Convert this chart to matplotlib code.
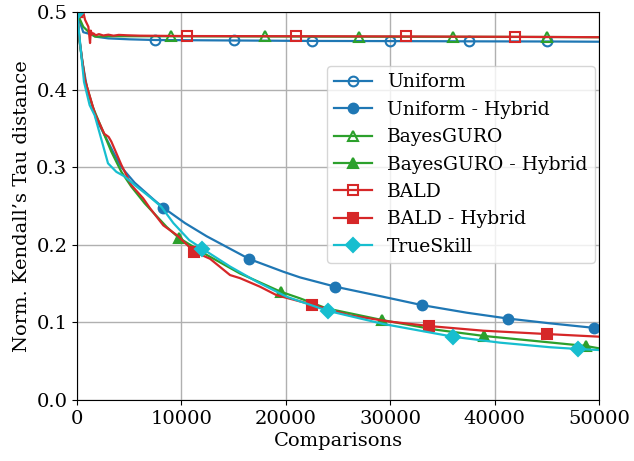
import numpy as np
import matplotlib
matplotlib.use("Agg")
import matplotlib.pyplot as plt

# valori (confronti, distanza tau normalizzata)
uni_x = [0, 300, 600, 1400, 1900, 3000, 5000, 7500, 15000, 22500, 30000, 37500, 45000, 50000]
uni_y = [0.500, 0.486, 0.474, 0.471, 0.468, 0.466, 0.4648, 0.4639, 0.4633, 0.4627, 0.4625, 0.4622, 0.4620, 0.4617]

uni_h_x = [0, 250, 500, 990, 1850, 2650, 3450, 4250, 5520, 7280, 8250, 10340, 12420, 16500, 19760,
           21360, 24750, 29340, 33000, 37330, 41250, 45310, 49500, 50000]
uni_h_y = [0.500, 0.462, 0.437, 0.400, 0.362, 0.341, 0.320, 0.300, 0.280, 0.259, 0.248, 0.228, 0.211,
           0.1817, 0.1653, 0.158, 0.146, 0.133, 0.1224, 0.1125, 0.105, 0.0988, 0.093, 0.0925]

bg_x = [0, 300, 600, 1250, 1720, 3000, 9000, 18000, 27000, 36000, 45000, 50000]
bg_y = [0.500, 0.490, 0.481, 0.4725, 0.4682, 0.4688, 0.4687, 0.4685, 0.4682, 0.4680, 0.4678, 0.4675]

bg_h_x = [0, 250, 500, 770, 1500, 2490, 3290, 4250, 5200, 6480, 8590, 9750, 12420, 15620, 19500,
          21360, 23920, 29250, 34130, 39000, 43700, 48750, 50000]
bg_h_y = [0.500, 0.462, 0.437, 0.412, 0.378, 0.346, 0.320, 0.294, 0.275, 0.2535, 0.223, 0.209, 0.187,
          0.163, 0.1396, 0.131, 0.118, 0.103, 0.091, 0.0825, 0.0763, 0.0696, 0.0666]

bald_x = [0, 400, 600, 770, 1090, 1250, 1320, 1450, 1570, 1800, 2100, 2520, 3000, 3500, 4000, 4760,
          6000, 10500, 21000, 31500, 42000, 50000]
bald_y = [0.500, 0.503, 0.500, 0.490, 0.481, 0.460, 0.476, 0.471, 0.4725, 0.470, 0.4715, 0.4697,
          0.4708, 0.4695, 0.4705, 0.470, 0.4695, 0.469, 0.4688, 0.4685, 0.468, 0.4675]

bald_h_x = [0, 250, 500, 770, 1720, 2620, 3030, 3290, 4250, 5200, 6330, 7000, 8270, 9550, 11250,
            12740, 14660, 15620, 17530, 19130, 22500, 26150, 29990, 33750, 38920, 45000, 50000]
bald_h_y = [0.500, 0.464, 0.438, 0.412, 0.369, 0.343, 0.339, 0.333, 0.303, 0.277, 0.260, 0.247,
            0.225, 0.2126, 0.191, 0.182, 0.161, 0.157, 0.146, 0.135, 0.123, 0.109, 0.101, 0.0953,
            0.0893, 0.085, 0.0816]

ts_x = [0, 670, 1210, 1690, 2970, 3770, 4570, 5520, 6330, 7120, 8080, 9230, 10750, 12000, 14660,
        17220, 20090, 24000, 29340, 36000, 40520, 45310, 48000, 50000]
ts_y = [0.500, 0.410, 0.380, 0.367, 0.305, 0.294, 0.288, 0.277, 0.2685, 0.260, 0.249, 0.228, 0.206,
        0.195, 0.172, 0.1525, 0.133, 0.115, 0.098, 0.0816, 0.0739, 0.068, 0.0657, 0.0644]

series = [
    ("Uniform", uni_x, uni_y, "#1f77b4", "o", False),
    ("Uniform - Hybrid", uni_h_x, uni_h_y, "#1f77b4", "o", True),
    ("BayesGURO", bg_x, bg_y, "#2ca02c", "^", False),
    ("BayesGURO - Hybrid", bg_h_x, bg_h_y, "#2ca02c", "^", True),
    ("BALD", bald_x, bald_y, "#d62728", "s", False),
    ("BALD - Hybrid", bald_h_x, bald_h_y, "#d62728", "s", True),
    ("TrueSkill", ts_x, ts_y, "#17becf", "D", True),
]

plt.rcParams['font.family'] = 'DejaVu Serif'
plt.rcParams['font.size'] = 14

fig = plt.figure(figsize=(6.34, 4.61), dpi=100)
ax = fig.add_axes([77 / 634, 1 - 400 / 461, 522 / 634, 388 / 461])

for i, (name, x, y, col, mk, filled) in enumerate(series):
    x = np.array(x)
    step = 7500 + 750 * i  # passo dei marker
    idx = list(np.where(x % step == 0)[0])
    ax.plot(x, y, color=col, lw=1.6, marker=mk, markevery=idx,
            markersize=7,
            markerfacecolor=col if filled else "none",
            markeredgewidth=1.5, label=name)

ax.set_xlim(0, 50000)
ax.set_ylim(0, 0.5)
ax.set_xticks([0, 10000, 20000, 30000, 40000, 50000])
ax.set_yticks([0.0, 0.1, 0.2, 0.3, 0.4, 0.5])
ax.grid(True, color="#b0b0b0", lw=1)
ax.set_axisbelow(True)
ax.set_xlabel("Comparisons", labelpad=3)
ax.set_ylabel("Norm. Kendall’s Tau distance")
ax.legend(loc="upper right", bbox_to_anchor=(0.992, 0.861), borderaxespad=0,
          fontsize=13.5, labelspacing=0.5)

fig.savefig("out.png", dpi=100)
